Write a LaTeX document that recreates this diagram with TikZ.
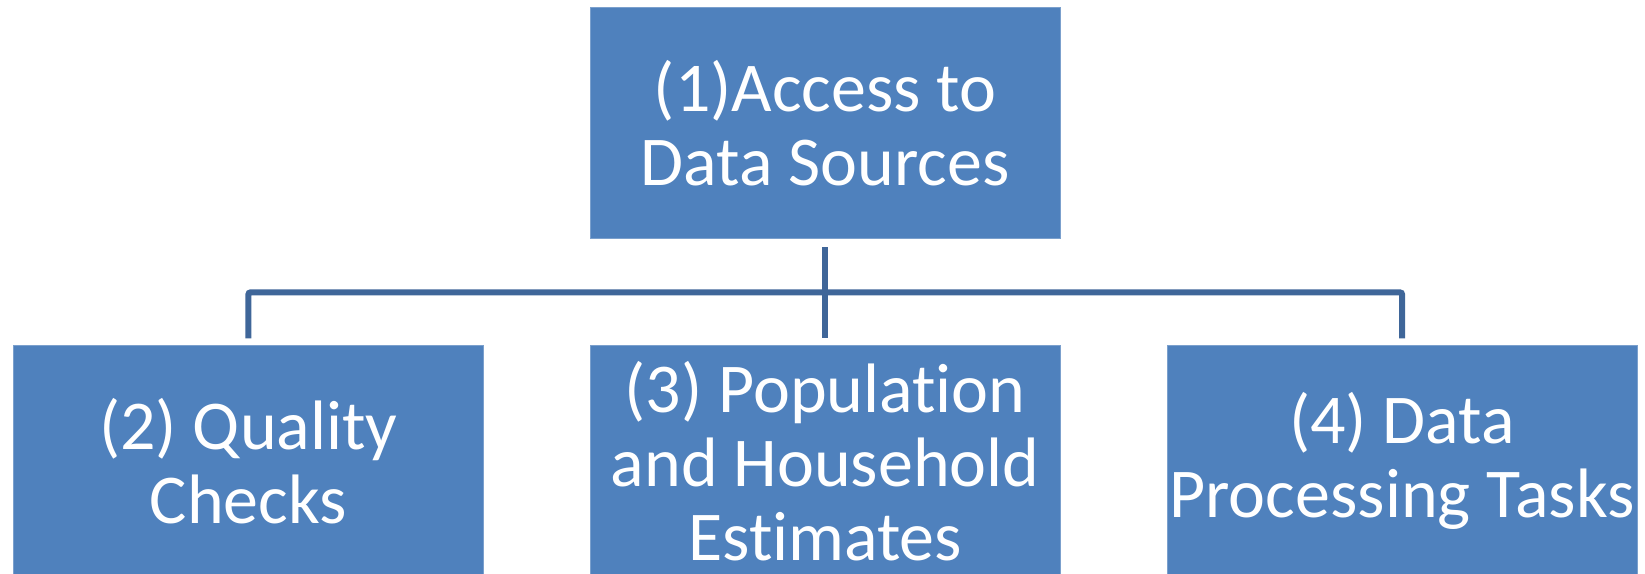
\documentclass[tikz,border=0pt]{standalone}
\usepackage{fontspec}
\setmainfont{Carlito}[Ligatures=NoCommon]
\usetikzlibrary{positioning, calc}
\definecolor{boxblue}{HTML}{4F81BD}
\definecolor{linkblue}{HTML}{3F6699}
\tikzstyle{every box} = []
\tikzstyle{box} = [rectangle, fill=boxblue, draw=boxblue!75!white, line width=0.5pt, text=white,
                   minimum width=235pt, minimum height=115.5pt, inner sep=0pt, align=center,
                   font=\fontsize{35}{37}\selectfont, every box]
\tikzstyle{link} = [draw=linkblue, line width=3pt, rounded corners=1pt]

\begin{document}
\begin{tikzpicture}[node distance=53pt]
  \useasboundingbox (-412.75pt,61.75pt) rectangle (410pt,-225.25pt);
  %Nodes
  \node[box] (access) {(1)Access to\\Data Sources};
  \node[box,below=of access] (estimates) {(3) Population\\and Household\\Estimates};
  \node[box,left=of estimates] (quality) {(2) Quality\\Checks};
  \node[box,right=of estimates] (processing) {(4) Data\\Processing Tasks};
  %Lines
  \coordinate (bus) at ($(access.south)!0.5!(estimates.north)$);
  \draw[link] ([yshift=-4pt]access.south) -- ([yshift=3.5pt]estimates.north);
  \draw[link] ([yshift=3.5pt]quality.north) |- (bus) -| ([yshift=3.5pt]processing.north);
\end{tikzpicture}
\end{document}
